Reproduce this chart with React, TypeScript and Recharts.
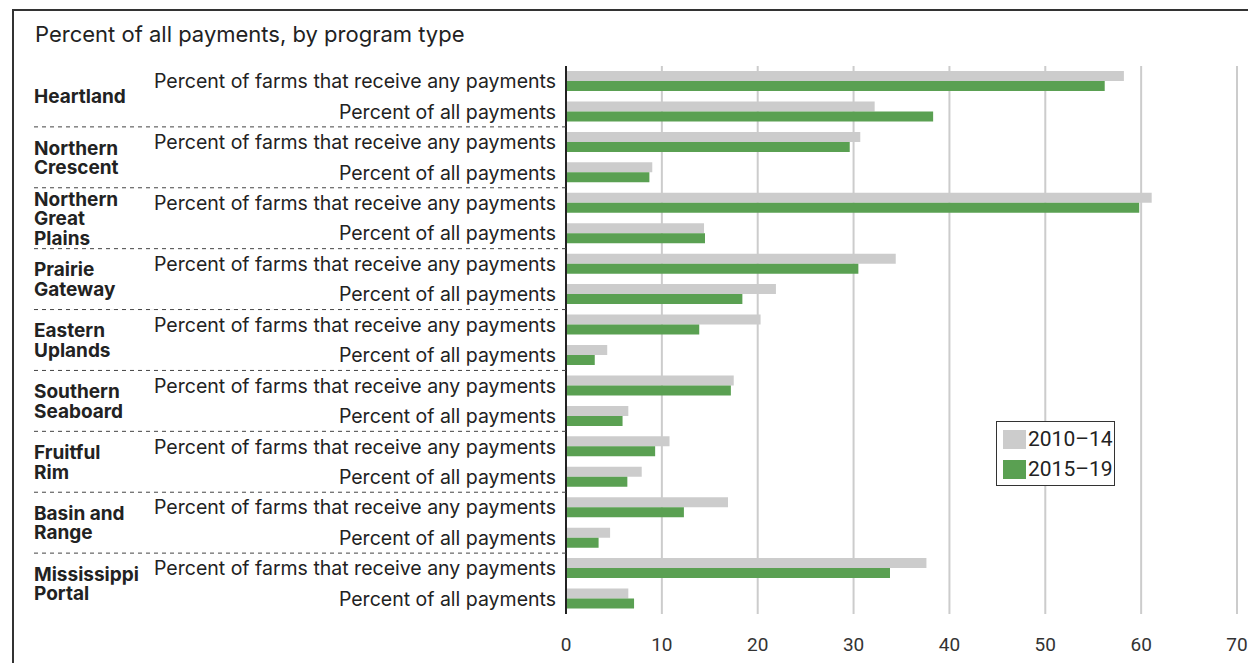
import React from 'react';
import {
  BarChart, Bar, XAxis, YAxis, CartesianGrid,
} from 'recharts';

const regions: string[][] = [
  ['Heartland'],
  ['Northern', 'Crescent'],
  ['Northern', 'Great', 'Plains'],
  ['Prairie', 'Gateway'],
  ['Eastern', 'Uplands'],
  ['Southern', 'Seaboard'],
  ['Fruitful', 'Rim'],
  ['Basin and', 'Range'],
  ['Mississippi', 'Portal'],
];

const measures = ['Percent of farms that receive any payments', 'Percent of all payments'];

const seriesNames = ['2010–14', '2015–19'];
const values2010 = [58.2, 32.2, 30.7, 9.0, 61.1, 14.4, 34.4, 21.9, 20.3, 4.3, 17.5, 6.5, 10.8, 7.9, 16.9, 4.6, 37.6, 6.5];
const values2015 = [56.2, 38.3, 29.6, 8.7, 59.8, 14.5, 30.5, 18.4, 13.9, 3.0, 17.2, 5.9, 9.3, 6.4, 12.3, 3.4, 33.8, 7.1];

const xTicks = [0, 10, 20, 30, 40, 50, 60, 70];

const GRAY = '#cccccc';
const GREEN = '#5aa052';
const FONT = 'Inter, Roboto, sans-serif';
const NUM_FONT = 'Roboto, sans-serif';

const W = 1248;
const H = 663;
const TOP = 66;
const BOTTOM = 19;
const X_AXIS_H = 30;
const AXIS_X = 566;
const BAND = (H - TOP - BOTTOM - X_AXIS_H) / (regions.length * measures.length);

const data = regions.flatMap((r, ri) =>
  measures.map((m, mi) => {
    const i = ri * measures.length + mi;
    return { key: `${r.join(' ')}|${m}`, region: ri, measure: mi, y2010: values2010[i], y2015: values2015[i] };
  })
);

// eslint-disable-next-line @typescript-eslint/no-explicit-any
function CategoryTick({ y, payload }: any) {
  const row = data[payload.index];
  if (!row) return null;
  const lines = regions[row.region];
  const lineH = 19.5;
  const groupCenter = y + BAND / 2;
  return (
    <g>
      <text
        x={AXIS_X - 10}
        y={y}
        textAnchor="end"
        dominantBaseline="central"
        fontSize={19.5}
        fill="#222"
        fontFamily={FONT}
      >
        {measures[row.measure]}
      </text>
      {row.measure === 0 && (
        <text
          x={34}
          fontSize={19}
          fontWeight={700}
          fill="#222"
          fontFamily={FONT}
          dominantBaseline="central"
        >
          {lines.map((l, k) => (
            <tspan key={k} x={34} y={groupCenter + (k - (lines.length - 1) / 2) * lineH}>{l}</tspan>
          ))}
        </text>
      )}
      {row.measure === 0 && row.region > 0 && (
        <line
          x1={34}
          x2={AXIS_X}
          y1={y - BAND / 2}
          y2={y - BAND / 2}
          stroke="#444"
          strokeWidth={1}
          strokeDasharray="4 4"
        />
      )}
    </g>
  );
}

function LegendBox() {
  const colors = [GRAY, GREEN];
  return (
    <div style={{
      position: 'absolute', left: 996, top: 421, width: 117, height: 63,
      border: '1px solid #333', background: '#fff', fontFamily: NUM_FONT,
    }}>
      {seriesNames.map((n, i) => (
        <div key={n} style={{ position: 'absolute', left: 6, top: 7 + i * 30, display: 'flex', alignItems: 'center', height: 20 }}>
          <span style={{ width: 23, height: 19, background: colors[i], display: 'inline-block', marginRight: 2 }} />
          <span style={{ fontSize: 21, color: '#222', lineHeight: '20px' }}>{n}</span>
        </div>
      ))}
    </div>
  );
}

export default function App() {
  return (
    <div style={{ position: 'absolute', left: 0, top: 0, width: W, height: H, background: '#fff', overflow: 'hidden' }}>
      <div style={{
        position: 'absolute', left: 12, top: 9, width: W, height: H,
        borderTop: '2px solid #333', borderLeft: '2px solid #333',
      }} />
      <div style={{
        position: 'absolute', left: 35, top: 21, fontSize: 22, color: '#222', fontFamily: FONT,
      }}>
        Percent of all payments, by program type
      </div>
      <div style={{ position: 'absolute', left: 0, top: 0 }}>
        <BarChart
          width={W}
          height={H}
          data={data}
          layout="vertical"
          margin={{ top: TOP, right: 11, bottom: BOTTOM, left: 0 }}
          barSize={10}
          barGap={0}
        >
          <CartesianGrid horizontal={false} stroke="#cccccc" strokeWidth={2} />
          <XAxis
            type="number"
            domain={[0, 70]}
            ticks={xTicks}
            height={X_AXIS_H}
            axisLine={false}
            tickLine={false}
            tickMargin={18}
            tick={{ fontSize: 19, fill: '#333', fontFamily: NUM_FONT }}
          />
          <YAxis
            type="category"
            dataKey="key"
            width={AXIS_X}
            axisLine={{ stroke: '#222', strokeWidth: 2 }}
            tickLine={false}
            tick={<CategoryTick />}
            interval={0}
          />
          <Bar dataKey="y2010" name={seriesNames[0]} fill={GRAY} isAnimationActive={false} />
          <Bar dataKey="y2015" name={seriesNames[1]} fill={GREEN} isAnimationActive={false} />
        </BarChart>
      </div>
      <LegendBox />
    </div>
  );
}
